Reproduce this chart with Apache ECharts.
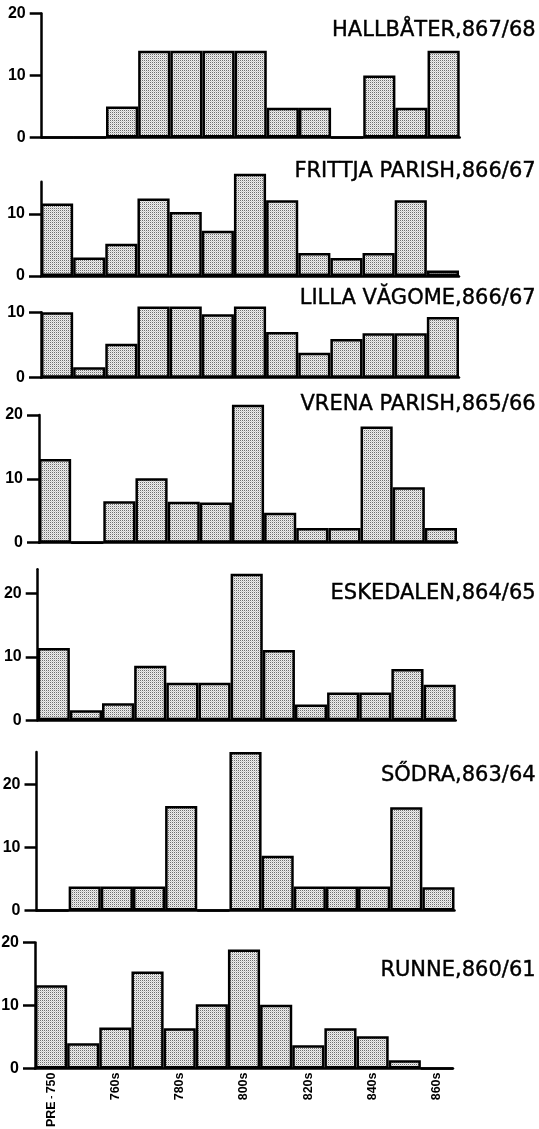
<!DOCTYPE html>
<html>
<head>
<meta charset="utf-8">
<script src="https://cdn.jsdelivr.net/npm/echarts@6/dist/echarts.min.js"></script>
<style>
  html, body { margin: 0; padding: 0; background: #fff; }
  #main { width: 539px; height: 1129px; }
</style>
</head>
<body>
<div id="main"></div>
<script>
// decades, shared by every panel
var categories = ["PRE - 750", "750s", "760s", "770s", "780s", "790s", "800s",
  "810s", "820s", "830s", "840s", "850s", "860s"];

// counts per decade
var hallbater = [0, 0, 5, 14, 14, 14, 14, 4.8, 4.8, 0, 10, 4.8, 14];
var frittja = [11.7, 3.0, 5.2, 12.5, 10.3, 7.3, 16.5, 12.2, 3.7, 2.9, 3.7, 12.2, 0.9];
var lilla = [10.0, 1.6, 5.2, 10.9, 10.9, 9.7, 10.9, 7.0, 3.8, 5.9, 6.8, 6.8, 9.3];
var vrena = [13.1, 0, 6.5, 10.1, 6.4, 6.3, 21.6, 4.7, 2.3, 2.3, 18.2, 8.7, 2.3];
var eskedalen = [11.4, 1.6, 2.7, 8.6, 5.9, 5.9, 23.1, 11.1, 2.5, 4.4, 4.4, 8.1, 5.6];
var sodra = [0, 3.8, 3.8, 3.8, 16.6, 0, 25.2, 8.7, 3.8, 3.8, 3.8, 16.4, 3.7];
var runne = [13.2, 4.0, 6.5, 15.4, 6.4, 10.2, 18.9, 10.1, 3.7, 6.4, 5.1, 1.3, 0];

// y tick labels per panel
var ticks20 = [0, 10, 20];
var ticks10 = [0, 10];

var panels = [
  { name: "HALLBÅTER,867/68", data: hallbater, ticks: ticks20, max: 20, left: 41.7, top: 13.5, height: 124, titleTop: 20 },
  { name: "FRITTJA PARISH,866/67", data: frittja, ticks: ticks10, max: 15.2, left: 41, top: 181.7, height: 94.3, titleTop: 161 },
  { name: "LILLA VĂGOME,866/67", data: lilla, ticks: ticks10, max: 10, left: 41, top: 312.3, height: 65.4, titleTop: 288 },
  { name: "VRENA PARISH,865/66", data: vrena, ticks: ticks20, max: 20, left: 39, top: 415, height: 127.7, titleTop: 394 },
  { name: "ESKEDALEN,864/65", data: eskedalen, ticks: ticks20, max: 23.8, left: 37.7, top: 569.3, height: 151, titleTop: 583 },
  { name: "SŐDRA,863/64", data: sodra, ticks: ticks20, max: 25.2, left: 36.5, top: 752, height: 158.5, titleTop: 765 },
  { name: "RUNNE,860/61", data: runne, ticks: ticks20, max: 20, left: 35, top: 942.5, height: 126, titleTop: 960 }
];

// stipple fill like the printed screen
var tile = document.createElement("canvas");
tile.width = 2;
tile.height = 2;
var tctx = tile.getContext("2d");
tctx.fillStyle = "#eeeeee";
tctx.fillRect(0, 0, 2, 2);
tctx.fillStyle = "#6e6e6e";
tctx.fillRect(0, 0, 1, 1);
tctx.fillStyle = "#cccccc";
tctx.fillRect(1, 1, 1, 1);

var numFont = "'Liberation Sans', Arial, sans-serif";

var grids = [], xAxes = [], yAxes = [], series = [], titles = [];
panels.forEach(function (p, i) {
  var last = i === panels.length - 1;
  grids.push({
    left: p.left,
    top: p.top,
    width: 418,
    height: p.height,
    containLabel: false,
    outerBoundsMode: "none"
  });
  xAxes.push({
    type: "category",
    gridIndex: i,
    data: categories,
    axisLine: { lineStyle: { color: "#000", width: 2.5 } },
    axisTick: { show: false },
    axisLabel: {
      show: last,
      interval: 1,
      rotate: 90,
      margin: 4,
      color: "#000",
      fontFamily: numFont,
      fontWeight: "bold",
      fontSize: 12.5,
      formatter: function (v) {
        var parts = v.split(" - ");
        if (parts.length === 2) {
          return "{a|" + parts[0] + "}{s| - }{a|" + parts[1] + "}";
        }
        return "{a|" + v + "}";
      },
      rich: {
        a: { fontFamily: numFont, fontWeight: "bold", fontSize: 12.5, color: "#000" },
        s: { fontFamily: numFont, fontWeight: "bold", fontSize: 9, color: "#000" }
      }
    }
  });
  yAxes.push({
    type: "value",
    gridIndex: i,
    min: 0,
    max: p.max,
    interval: 10,
    splitLine: { show: false },
    axisLine: { show: true, lineStyle: { color: "#000", width: 2.5 } },
    axisTick: {
      show: true,
      inside: false,
      length: 12,
      customValues: p.ticks,
      lineStyle: { color: "#000", width: 2.5 }
    },
    axisLabel: {
      customValues: p.ticks,
      margin: 16,
      color: "#000",
      fontFamily: numFont,
      fontWeight: "bold",
      fontSize: 16
    }
  });
  series.push({
    name: p.name,
    type: "bar",
    xAxisIndex: i,
    yAxisIndex: i,
    data: p.data,
    barCategoryGap: "0%",
    clip: false,
    silent: true,
    itemStyle: {
      color: { image: tile, repeat: "repeat" },
      borderColor: "#000",
      borderWidth: 2.5
    }
  });
  titles.push({
    text: p.name,
    right: 3,
    top: p.titleTop,
    padding: 0,
    textStyle: {
      fontFamily: "'DejaVu Sans', sans-serif",
      fontWeight: "normal",
      fontSize: 21,
      color: "#000",
      textBorderColor: "#000",
      textBorderWidth: 0.4
    }
  });
});

var chart = echarts.init(document.getElementById("main"));
chart.setOption({
  animation: false,
  backgroundColor: "#fff",
  title: titles,
  grid: grids,
  xAxis: xAxes,
  yAxis: yAxes,
  series: series
});
</script>
</body>
</html>
